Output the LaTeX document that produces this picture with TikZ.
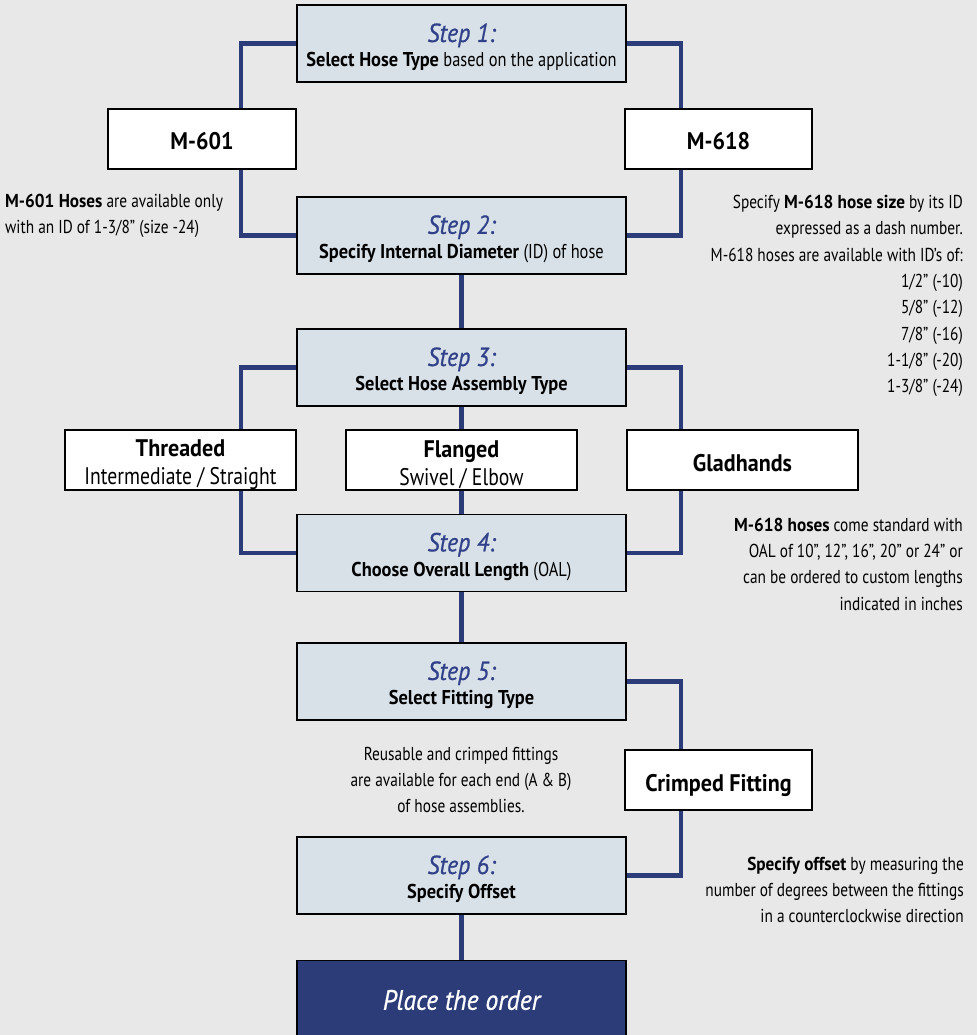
\documentclass[tikz,border=0pt]{standalone}
\usepackage{fontspec}
\setmainfont{PT Sans}[
  UprightFeatures={FakeStretch=0.82},
  BoldFeatures={FakeStretch=0.92},
  ItalicFeatures={FakeStretch=0.92, FakeBold=0.8},
  BoldItalicFeatures={FakeStretch=0.92}]
\usetikzlibrary{calc}
\definecolor{bg}{HTML}{E8E8E8}
\definecolor{stepfill}{HTML}{D9E1E8}
\definecolor{navy}{HTML}{2C3C78}
\definecolor{steptext}{HTML}{30418A}
\newcommand{\steplabel}[1]{\rule{0pt}{26pt}{\color{steptext}\itshape\fontsize{26}{25}\selectfont #1}}
\newcommand{\rowstrut}{\rule{0pt}{26pt}}
\begin{document}
\begin{tikzpicture}[x=1pt,y=-1pt,
  stepbox/.style={draw=black, line width=1.8pt, fill=stepfill, minimum width=329pt, minimum height=77pt, align=center, inner sep=0pt, font=\fontsize{20}{25}\selectfont},
  whitebox/.style={draw=black, line width=1.8pt, fill=white, minimum height=60pt, align=center, inner sep=0pt, font=\fontsize{24}{28}\selectfont},
  single/.style={text height=22pt, text depth=0pt},
  conn/.style={draw=navy, line width=4.7pt},
  note/.style={inner sep=0pt, font=\fontsize{18.7}{26.3}\selectfont}]
\fill[bg] (0,0) rectangle (977,1035);
\useasboundingbox (0,0) rectangle (977,1035);
\coordinate (L) at (241,0);
\coordinate (R) at (681,0);
% boxes
\node[stepbox] (s1) at (461.5,43.5) {\steplabel{Step 1:}\\\textbf{Select Hose Type} based on the application};
\node[whitebox, single, minimum width=188pt] (m601) at (202,139) {\textbf{M-601}};
\node[whitebox, single, minimum width=187pt] (m618) at (718.5,139) {\textbf{M-618}};
\node[stepbox] (s2) at (461.5,235.5) {\steplabel{Step 2:}\\\textbf{Specify Internal Diameter} (ID) of hose};
\node[stepbox] (s3) at (461.5,367.5) {\steplabel{Step 3:}\\\textbf{Select Hose Assembly Type}};
\node[whitebox, minimum width=231pt] (thr) at (180.5,460) {\rowstrut\textbf{Threaded}\\Intermediate / Straight};
\node[whitebox, minimum width=231pt] (fl) at (461.5,460) {\rowstrut\textbf{Flanged}\\Swivel / Elbow};
\node[whitebox, single, minimum width=231pt] (glad) at (742.5,460) {\textbf{Gladhands}};
\node[stepbox] (s4) at (461.5,553) {\steplabel{Step 4:}\\\textbf{Choose Overall Length} (OAL)};
\node[stepbox] (s5) at (461.5,681.5) {\steplabel{Step 5:}\\\textbf{Select Fitting Type}};
\node[whitebox, single, minimum width=187pt] (crimp) at (718.5,780) {\textbf{Crimped Fitting}};
\node[stepbox] (s6) at (461.5,875.5) {\steplabel{Step 6:}\\\textbf{Specify Offset}};
\node[draw=black, line width=1.8pt, fill=navy, minimum width=329pt, minimum height=79pt, inner sep=0pt, text=white, font=\itshape\fontsize{28}{30}\selectfont] (order) at (461.5,1000) {Place the order};
% notes
\node[note, anchor=west, align=left] (n601) at (5,216) {\textbf{M-601 Hoses} are available only\\with an ID of 1-3/8'' (size -24)};
\node[note, anchor=east, align=right] (n618) at (963,296) {Specify \textbf{M-618 hose size} by its ID\\expressed as a dash number.\\M-618 hoses are available with ID's of:\\1/2'' (-10)\\5/8'' (-12)\\7/8'' (-16)\\1-1/8'' (-20)\\1-3/8'' (-24)};
\node[note, anchor=east, align=right] (noal) at (963,564) {\textbf{M-618 hoses} come standard with\\OAL of 10'', 12'', 16'', 20'' or 24'' or\\can be ordered to custom lengths\\indicated in inches};
\node[note, align=center] (nfit) at (461,780) {Reusable and crimped fittings\\are available for each end (A \& B)\\of hose assemblies.};
\node[note, anchor=east, align=right] (noff) at (964,890) {\textbf{Specify offset} by measuring the\\number of degrees between the fittings\\in a counterclockwise direction};
% connectors
\draw[conn] (s1.west) -| (L |- m601.north);
\draw[conn] (s1.east) -| (R |- m618.north);
\draw[conn] (m601.south -| L) |- (s2.west);
\draw[conn] (m618.south -| R) |- (s2.east);
\draw[conn] (s2.south) -- (s3.north);
\draw[conn] (s3.west) -| (L |- thr.north);
\draw[conn] (s3.south) -- (fl.north);
\draw[conn] (s3.east) -| (R |- glad.north);
\draw[conn] (thr.south -| L) |- (s4.west);
\draw[conn] (fl.south) -- (s4.north);
\draw[conn] (glad.south -| R) |- (s4.east);
\draw[conn] (s4.south) -- (s5.north);
\draw[conn] (s5.east) -| (R |- crimp.north);
\draw[conn] (crimp.south -| R) |- (s6.east);
\draw[conn] (s6.south) -- (order.north);
\end{tikzpicture}
\end{document}
